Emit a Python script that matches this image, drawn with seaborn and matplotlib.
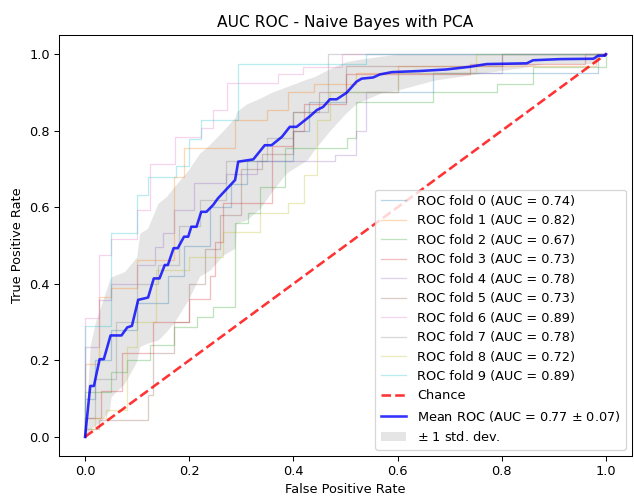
import numpy as np
import pandas as pd
import matplotlib
matplotlib.use("Agg")
import matplotlib.pyplot as plt
import seaborn as sns

# ---- data ----
fold_aucs = [0.74, 0.82, 0.67, 0.73, 0.78, 0.73, 0.89, 0.78, 0.72, 0.89]

fold0_fpr = [0, 0, 0.02, 0.02, 0.05, 0.05, 0.10, 0.10, 0.16, 0.16, 0.19, 0.19, 0.24, 0.24, 0.28, 0.28, 0.31, 0.31, 0.40, 0.40, 0.43, 0.43, 0.50, 0.50, 0.668, 0.668, 0.985, 0.985, 1]
fold0_tpr = [0, 0.10, 0.10, 0.20, 0.20, 0.28, 0.28, 0.35, 0.35, 0.42, 0.42, 0.50, 0.50, 0.60, 0.60, 0.66, 0.66, 0.72, 0.72, 0.80, 0.80, 0.876, 0.876, 0.90, 0.90, 0.95, 0.95, 1, 1]

fold1_fpr = [0, 0, 0.026, 0.026, 0.05, 0.05, 0.099, 0.099, 0.17, 0.17, 0.19, 0.19, 0.288, 0.288, 0.35, 0.35, 0.39, 0.39, 0.44, 0.44, 0.52, 0.52, 0.60, 0.60, 0.98, 0.98, 1]
fold1_tpr = [0, 0.19, 0.19, 0.366, 0.366, 0.388, 0.388, 0.462, 0.462, 0.68, 0.68, 0.754, 0.754, 0.828, 0.828, 0.854, 0.854, 0.902, 0.902, 0.923, 0.923, 0.951, 0.951, 0.97, 0.97, 1, 1]

fold2_fpr = [0, 0, 0.05, 0.05, 0.08, 0.08, 0.125, 0.125, 0.17, 0.17, 0.215, 0.215, 0.245, 0.245, 0.288, 0.288, 0.313, 0.313, 0.336, 0.336, 0.384, 0.384, 0.502, 0.502, 0.521, 0.521, 0.668, 0.668, 0.79, 0.79, 0.86, 0.86, 1.0, 1.0]
fold2_tpr = [0, 0.118, 0.118, 0.17, 0.17, 0.20, 0.20, 0.24, 0.24, 0.288, 0.288, 0.314, 0.314, 0.34, 0.34, 0.558, 0.558, 0.584, 0.584, 0.654, 0.654, 0.754, 0.754, 0.78, 0.78, 0.876, 0.876, 0.90, 0.90, 0.923, 0.923, 0.967, 0.967, 1]

fold3_fpr = [0, 0, 0.03, 0.03, 0.07, 0.07, 0.13, 0.13, 0.20, 0.20, 0.24, 0.24, 0.25, 0.25, 0.265, 0.265, 0.358, 0.358, 0.40, 0.40, 0.42, 0.42, 0.50, 0.50, 0.739, 0.739, 0.96, 0.96, 1]
fold3_tpr = [0, 0.05, 0.05, 0.12, 0.12, 0.22, 0.22, 0.30, 0.30, 0.36, 0.36, 0.42, 0.42, 0.51, 0.51, 0.61, 0.61, 0.76, 0.76, 0.80, 0.80, 0.87, 0.87, 0.949, 0.949, 0.975, 0.975, 1, 1]

fold4_fpr = [0, 0, 0.026, 0.026, 0.05, 0.05, 0.10, 0.10, 0.135, 0.135, 0.15, 0.15, 0.17, 0.17, 0.21, 0.21, 0.27, 0.27, 0.33, 0.33, 0.48, 0.48, 0.52, 0.52, 0.54, 0.54, 0.60, 0.60, 0.80, 0.80, 1]
fold4_tpr = [0, 0.236, 0.236, 0.358, 0.358, 0.40, 0.40, 0.45, 0.45, 0.497, 0.497, 0.532, 0.532, 0.593, 0.593, 0.662, 0.662, 0.688, 0.688, 0.72, 0.72, 0.736, 0.736, 0.80, 0.80, 0.90, 0.90, 0.95, 0.95, 1, 1]

fold5_fpr = [0, 0, 0.026, 0.026, 0.12, 0.12, 0.13, 0.13, 0.17, 0.17, 0.20, 0.20, 0.23, 0.23, 0.26, 0.26, 0.30, 0.30, 0.34, 0.34, 0.40, 0.40, 0.45, 0.45, 0.50, 0.50, 0.80, 0.80, 1]
fold5_tpr = [0, 0.02, 0.02, 0.044, 0.044, 0.11, 0.11, 0.218, 0.218, 0.30, 0.30, 0.40, 0.40, 0.49, 0.49, 0.58, 0.58, 0.70, 0.70, 0.74, 0.74, 0.85, 0.85, 0.90, 0.90, 0.97, 0.97, 1, 1]

fold6_fpr = [0, 0, 0.026, 0.026, 0.05, 0.05, 0.099, 0.099, 0.124, 0.124, 0.173, 0.173, 0.223, 0.223, 0.246, 0.246, 0.272, 0.272, 0.371, 0.371, 0.419, 0.419, 0.493, 0.493, 1]
fold6_tpr = [0, 0.31, 0.31, 0.475, 0.475, 0.518, 0.518, 0.593, 0.593, 0.713, 0.713, 0.784, 0.784, 0.806, 0.806, 0.854, 0.854, 0.925, 0.925, 0.949, 0.949, 0.967, 0.967, 1, 1]

fold7_fpr = [0, 0, 0.02, 0.02, 0.06, 0.06, 0.10, 0.10, 0.14, 0.14, 0.18, 0.18, 0.22, 0.22, 0.27, 0.27, 0.35, 0.35, 0.40, 0.40, 0.467, 0.467, 1]
fold7_tpr = [0, 0.05, 0.05, 0.15, 0.15, 0.30, 0.30, 0.40, 0.40, 0.45, 0.45, 0.55, 0.55, 0.62, 0.62, 0.72, 0.72, 0.78, 0.78, 0.85, 0.85, 1, 1]

fold8_fpr = [0, 0, 0.02, 0.02, 0.04, 0.04, 0.08, 0.08, 0.10, 0.10, 0.136, 0.136, 0.20, 0.20, 0.265, 0.265, 0.336, 0.336, 0.39, 0.39, 0.42, 0.42, 0.445, 0.445, 0.47, 0.47, 0.60, 0.60, 0.75, 0.75, 1]
fold8_tpr = [0, 0.02, 0.02, 0.05, 0.05, 0.07, 0.07, 0.236, 0.236, 0.30, 0.30, 0.436, 0.436, 0.47, 0.47, 0.536, 0.536, 0.584, 0.584, 0.61, 0.61, 0.684, 0.684, 0.828, 0.828, 0.902, 0.902, 0.95, 0.95, 1, 1]

fold9_fpr = [0, 0, 0.05, 0.05, 0.10, 0.10, 0.121, 0.121, 0.175, 0.175, 0.20, 0.20, 0.223, 0.223, 0.294, 0.294, 0.54, 0.54, 1]
fold9_tpr = [0, 0.29, 0.29, 0.533, 0.533, 0.632, 0.632, 0.68, 0.68, 0.707, 0.707, 0.777, 0.777, 0.828, 0.828, 0.973, 0.973, 1, 1]

mean_fpr = [0, 0.010, 0.017, 0.028, 0.036, 0.049, 0.070, 0.081, 0.090, 0.102, 0.121, 0.132, 0.143,
            0.153, 0.159, 0.170, 0.178, 0.190, 0.198, 0.204, 0.214, 0.223, 0.233, 0.246, 0.255,
            0.288, 0.294, 0.323, 0.345, 0.358, 0.378, 0.393, 0.406, 0.432, 0.445, 0.457, 0.470,
            0.483, 0.502, 0.521, 0.531, 0.553, 0.566, 0.589, 0.643, 0.694, 0.739, 0.771, 0.848,
            0.860, 0.912, 0.976, 0.985, 0.998, 1.0]
mean_tpr = [0, 0.133, 0.133, 0.203, 0.203, 0.265, 0.265, 0.286, 0.290, 0.358, 0.364, 0.414, 0.414,
            0.449, 0.449, 0.493, 0.493, 0.523, 0.523, 0.549, 0.549, 0.588, 0.588, 0.606, 0.623,
            0.671, 0.719, 0.725, 0.762, 0.762, 0.784, 0.810, 0.810, 0.838, 0.854, 0.862, 0.882,
            0.882, 0.899, 0.928, 0.936, 0.939, 0.947, 0.953, 0.956, 0.960, 0.967, 0.974, 0.976,
            0.984, 0.987, 0.988, 0.996, 0.996, 1.0]

band_fpr = [0, 0.010, 0.020, 0.030, 0.047, 0.050, 0.076, 0.099, 0.105, 0.120, 0.140, 0.156, 0.172,
            0.198, 0.220, 0.240, 0.265, 0.288, 0.291, 0.310, 0.336, 0.358, 0.387, 0.426, 0.440,
            0.470, 0.500, 0.520, 0.570, 0.600, 0.670, 0.760, 0.850, 0.880, 0.980, 1.0]
band_upper = [0, 0.240, 0.300, 0.340, 0.410, 0.418, 0.432, 0.470, 0.532, 0.545, 0.610, 0.628, 0.655,
              0.697, 0.741, 0.765, 0.800, 0.835, 0.850, 0.870, 0.885, 0.900, 0.915, 0.935, 0.941,
              0.962, 0.980, 0.985, 0.995, 1.0, 1.0, 1.0, 1.0, 1.0, 1.0, 1.0]
band_lower = [0, 0.020, 0.030, 0.040, 0.070, 0.105, 0.140, 0.197, 0.236, 0.245, 0.253, 0.275, 0.301,
              0.358, 0.420, 0.436, 0.475, 0.493, 0.558, 0.567, 0.597, 0.640, 0.690, 0.723, 0.750,
              0.800, 0.845, 0.870, 0.900, 0.906, 0.932, 0.950, 0.967, 0.975, 0.975, 1.0]

chance_x = [0, 1]
chance_y = [0, 1]

mean_auc = 0.77
std_auc = 0.07

title = "AUC ROC - Naive Bayes with PCA"
xlabel = "False Positive Rate"
ylabel = "True Positive Rate"

folds_fpr = [fold0_fpr, fold1_fpr, fold2_fpr, fold3_fpr, fold4_fpr,
             fold5_fpr, fold6_fpr, fold7_fpr, fold8_fpr, fold9_fpr]
folds_tpr = [fold0_tpr, fold1_tpr, fold2_tpr, fold3_tpr, fold4_tpr,
             fold5_tpr, fold6_tpr, fold7_tpr, fold8_tpr, fold9_tpr]

# ---- plotting ----
plt.rcParams['font.family'] = ['DejaVu Sans']
DPI = 93
fig = plt.figure(figsize=(634 / DPI, 496 / DPI), dpi=DPI)
ax = fig.add_axes([59 / 634, 40 / 496, (632 - 59) / 634, (456 - 35) / 496])

palette = sns.color_palette("tab10", 10)
for i, (fx, fy) in enumerate(zip(folds_fpr, folds_tpr)):
    df = pd.DataFrame({"fpr": fx, "tpr": fy})
    sns.lineplot(data=df, x="fpr", y="tpr", sort=False, estimator=None,
                 color=palette[i], lw=1, alpha=0.3, ax=ax,
                 label=f"ROC fold {i} (AUC = {fold_aucs[i]:.2f})")

sns.lineplot(x=chance_x, y=chance_y, linestyle="--", lw=2, color="r", alpha=0.8,
             ax=ax, label="Chance")

mdf = pd.DataFrame({"fpr": mean_fpr, "tpr": mean_tpr})
sns.lineplot(data=mdf, x="fpr", y="tpr", sort=False, estimator=None, color="b",
             lw=2, alpha=0.8, ax=ax,
             label=f"Mean ROC (AUC = {mean_auc:.2f} $\\pm$ {std_auc:.2f})")

ax.fill_between(band_fpr, band_lower, band_upper, color="grey", alpha=0.2,
                lw=0, label="$\\pm$ 1 std. dev.")

ax.set_xlim(-0.05, 1.05)
ax.set_ylim(-0.05, 1.05)
ax.set_title(title, fontsize=12)
ax.set_xlabel(xlabel, fontsize=10)
ax.set_ylabel(ylabel, fontsize=10)
ax.tick_params(labelsize=10)
ax.legend(loc="lower right", fontsize=10)

fig.savefig("out.png", dpi=DPI)
